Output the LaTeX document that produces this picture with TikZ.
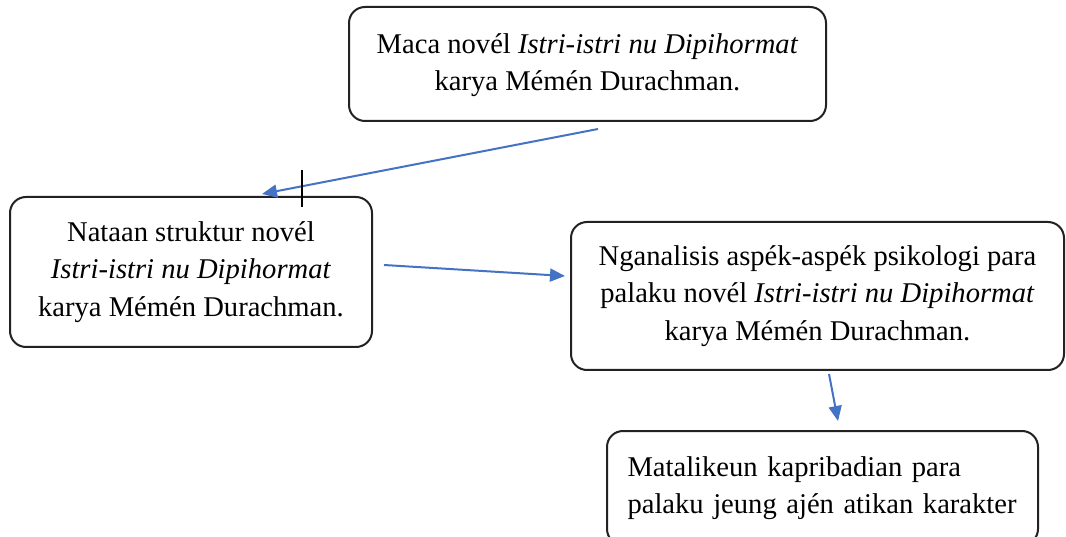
\documentclass[tikz,border=0pt]{standalone}
\usepackage{fontspec}
\setmainfont{Liberation Serif}
\usetikzlibrary{arrows.meta}
\definecolor{arrblue}{HTML}{4472C4}
\definecolor{boxline}{HTML}{222222}
\tikzset{
  box/.style={draw=boxline, line width=2pt, rounded corners=16pt, inner sep=0pt,
    font=\fontsize{28.6}{37.5}\selectfont, align=center},
  arr/.style={draw=arrblue, line width=2pt, -{Triangle[length=15pt,width=13pt]}},
}
\begin{document}
\begin{tikzpicture}[x=1pt,y=-1pt]
\useasboundingbox (0,0) rectangle (1066,537);
\clip (0,0) rectangle (1066,537);
\fill[white] (0,0) rectangle (1066,537);
\node[box, minimum width=477pt, minimum height=114pt, text depth=4pt] (b1) at (587.5,64)
  {Maca novél \textit{Istri-istri nu Dipihormat}\\karya Mémén Durachman.};
\node[box, minimum width=362pt, minimum height=150pt] (b2) at (191,272)
  {Nataan struktur novél\\\textit{Istri-istri nu Dipihormat}\\karya Mémén Durachman.};
\node[box, minimum width=493pt, minimum height=148pt] (b3) at (817.5,296)
  {Nganalisis aspék-aspék psikologi para\\palaku novél \textit{Istri-istri nu Dipihormat}\\karya Mémén Durachman.};
\node[box, minimum width=431pt, minimum height=114pt, text width=390pt, align=left] (b4) at (822.5,488)
  {Matalikeun kapribadian para\\palaku jeung ajén atikan karakter};
\draw[arr] ([xshift=10.5pt,yshift=-7pt]b1.south) -- ([xshift=71pt,yshift=2pt]b2.north);
\draw[arr] ([xshift=11pt,yshift=7pt]b2.east) -- ([xshift=-5pt,yshift=20pt]b3.west);
\draw[arr] ([xshift=11.5pt,yshift=-3pt]b3.south) -- ([xshift=15.5pt,yshift=9pt]b4.north);
\coordinate (c1) at (302,170);
\coordinate (c2) at (302,207);
\draw[black, line width=1.5pt] (c1) -- (c2);
\end{tikzpicture}
\end{document}
